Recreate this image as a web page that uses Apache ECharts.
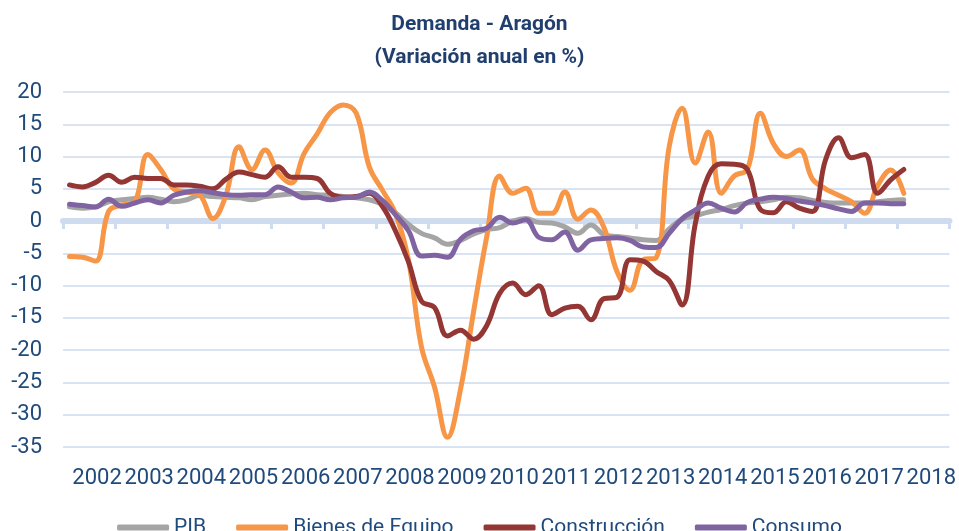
<!DOCTYPE html>
<html>
<head>
<meta charset="utf-8">
<script src="https://cdn.jsdelivr.net/npm/echarts@6/dist/echarts.min.js"></script>
<style>
  html,body{margin:0;padding:0;background:#fff;}
  #chart{width:959px;height:531px;}
</style>
</head>
<body>
<div id="chart"></div>
<script>
// etiquetas del eje (un año por banda)
var years = ['2002','2003','2004','2005','2006','2007','2008','2009','2010','2011','2012','2013','2014','2015','2016','2017','2018'];
// series trimestrales, 2002T1 - 2018T1
var pib = [2.2,2.0,2.2,3.0,3.3,3.5,3.7,3.4,3.0,3.3,
  4.0,3.8,3.7,3.6,3.3,3.8,4.0,4.2,4.3,4.1,
  4.0,3.8,3.6,3.3,2.6,1.3,-0.5,-1.9,-2.6,-3.6,
  -3.0,-2.0,-1.3,-1.0,0.0,0.4,-0.2,-0.3,-0.9,-1.9,
  -0.6,-2.1,-2.4,-2.6,-2.9,-3.0,-1.2,0.3,0.8,1.4,
  1.8,2.4,2.8,3.0,3.3,3.7,3.6,3.2,2.9,2.8,
  2.8,2.8,3.0,3.2,3.3];
var bienes = [-5.5,-5.6,-6.2,1.5,2.5,3.0,10.3,8.0,5.0,4.5,
  4.0,0.4,4.0,11.5,8.0,11.0,7.5,5.9,10.5,13.5,
  16.8,18.0,16.7,8.4,4.8,1.2,-6.0,-19.5,-25.7,-33.5,
  -26.0,-14.0,-2.5,7.0,4.3,5.1,1.2,1.2,4.5,0.3,
  1.7,-1.0,-7.8,-10.7,-6.0,-5.7,11.5,17.5,9.0,13.8,
  4.3,7.0,8.0,16.7,12.0,10.0,11.0,6.5,5.0,4.0,
  3.0,1.2,5.5,7.9,4.3];
var construccion = [5.6,5.3,6.0,7.1,6.0,6.8,6.6,6.6,5.6,5.6,
  5.4,5.0,6.5,7.6,7.2,6.8,8.4,6.8,6.8,6.6,
  4.3,3.7,3.8,4.3,2.3,-1.5,-6.3,-12.4,-13.4,-17.8,
  -16.9,-18.3,-16.2,-11.2,-9.6,-11.4,-10.0,-14.5,-13.5,-13.2,
  -15.3,-12.0,-11.8,-6.0,-6.2,-7.8,-9.2,-13.0,-0.5,7.0,
  8.9,8.8,8.0,1.8,1.3,3.0,2.0,1.5,9.5,12.9,
  9.8,10.3,4.3,6.4,8.0];
var consumo = [2.6,2.4,2.2,3.4,2.3,2.8,3.3,2.8,4.0,4.5,
  4.7,4.4,4.1,4.0,4.1,4.1,5.3,4.5,3.6,3.7,
  3.3,3.6,3.7,4.5,3.2,1.0,-1.5,-5.4,-5.3,-5.6,
  -2.8,-1.5,-1.1,0.6,-0.3,0.2,-2.5,-2.9,-1.7,-4.5,
  -2.9,-2.7,-2.6,-3.0,-4.0,-4.1,-1.9,0.4,1.7,2.8,
  2.0,1.4,2.9,3.4,3.7,3.5,3.1,2.8,2.4,1.9,
  1.5,2.8,2.8,2.7,2.7];

// categorías trimestrales del eje superior (línea del cero)
var quarters = [];
years.forEach(function(y){
  for (var q = 1; q <= 4; q++) quarters.push(y + 'T' + q);
});

var azul = '#1f4a7c';
var rejilla = '#d9e3f1';
var ceroCol = '#cfdcf0';

var chart = echarts.init(document.getElementById('chart'), null, {renderer:'canvas'});
var option = {
  animation: false,
  backgroundColor: '#fff',
  title: {
    text: 'Demanda - Aragón\n(Variación anual en %)',
    left: 'center',
    top: 3,
    textStyle: {
      fontFamily: 'Roboto',
      fontSize: 21,
      fontWeight: 'bold',
      color: '#203f6e',
      lineHeight: 33
    }
  },
  legend: {
    top: 512,
    left: 'center',
    itemGap: 30,
    itemWidth: 52,
    itemHeight: 6,
    icon: 'roundRect',
    textStyle: {fontFamily:'Roboto', fontSize: 21, color: azul},
    data: ['PIB','Bienes de Equipo','Construcción','Consumo']
  },
  grid: {left: 63, right: 8, top: 92, bottom: 84},
  xAxis: [{
    type: 'category',
    data: quarters,
    position: 'top',
    boundaryGap: true,
    z: 1,
    axisLine: {show: true, onZero: true, lineStyle: {color: ceroCol, width: 6}},
    axisTick: {show: true, inside: true, interval: 3, length: 8, lineStyle: {color: ceroCol, width: 3}},
    axisLabel: {show: false},
    splitLine: {show: false}
  }, {
    type: 'category',
    data: years,
    position: 'bottom',
    boundaryGap: true,
    axisLine: {show: false},
    axisTick: {show: false},
    axisLabel: {
      interval: 0,
      margin: 20,
      padding: [0,0,0,16],
      fontFamily: 'Roboto',
      fontSize: 22,
      color: azul
    },
    splitLine: {show: false}
  }],
  yAxis: {
    type: 'value',
    min: -35,
    max: 20,
    interval: 5,
    axisLine: {show: false},
    axisTick: {show: false},
    axisLabel: {margin: 21, fontFamily: 'Roboto', fontSize: 22, color: azul},
    splitLine: {lineStyle: {color: rejilla, width: 2}}
  },
  series: [
    {name:'PIB', type:'line', data: pib, color:'#a5a5a5'},
    {name:'Bienes de Equipo', type:'line', data: bienes, color:'#f79646'},
    {name:'Construcción', type:'line', data: construccion, color:'#943634'},
    {name:'Consumo', type:'line', data: consumo, color:'#8064a2'}
  ].map(function(s){
    s.xAxisIndex = 0;
    s.smooth = 0.4;
    s.symbol = 'none';
    s.showSymbol = false;
    s.z = 3;
    s.lineStyle = {width: 5, color: s.color, cap: 'round', join: 'round'};
    s.itemStyle = {color: s.color};
    return s;
  })
};
chart.setOption(option);
</script>
</body>
</html>
